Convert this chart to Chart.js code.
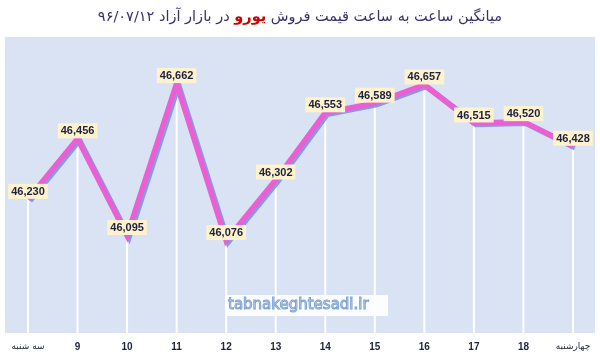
<!DOCTYPE html>
<html>
<head>
<meta charset="utf-8">
<script src="https://cdn.jsdelivr.net/npm/chart.js@4.4.1/dist/chart.umd.min.js"></script>
<style>
  html, body { margin: 0; padding: 0; background: #ffffff; }
  #wrap { position: relative; width: 600px; height: 356px; }
  #title {
    position: absolute; left: 0; top: 3px; width: 600px; height: 26px;
    text-align: center; direction: rtl;
    font-family: 'DejaVu Sans', sans-serif; font-size: 14.5px; line-height: 26px;
    color: #3b2f6b;
  }
  #title .red { color: #d00000; font-weight: bold; }
  canvas { position: absolute; left: 0; top: 0; }
</style>
</head>
<body>
<div id="wrap">
  <canvas id="c" width="600" height="356"></canvas>
  <div id="title">میانگین ساعت به ساعت قیمت فروش <span class="red">یورو</span> در بازار آزاد ۹۶/۰۷/۱۲</div>
</div>
<script>
const categories = ['سه شنبه', '9', '10', '11', '12', '13', '14', '15', '16', '17', '18', 'چهارشنبه'];
const prices = [46230, 46456, 46095, 46662, 46076, 46302, 46553, 46589, 46657, 46515, 46520, 46428];
const yMin = 45731;
const yMax = 46836;

const bgPlugin = {
  id: 'bgPlugin',
  beforeDraw(chart) {
    const { ctx, chartArea } = chart;
    ctx.save();
    ctx.fillStyle = '#dae3f3';
    ctx.fillRect(5, chartArea.top, 590, chartArea.bottom - chartArea.top);
    ctx.restore();
  }
};

const dropLines = {
  id: 'dropLines',
  beforeDatasetsDraw(chart) {
    const { ctx, chartArea } = chart;
    const meta = chart.getDatasetMeta(0);
    ctx.save();
    ctx.strokeStyle = '#ffffff';
    ctx.lineWidth = 2;
    meta.data.forEach(p => {
      ctx.beginPath();
      ctx.moveTo(p.x, p.y);
      ctx.lineTo(p.x, chartArea.bottom);
      ctx.stroke();
    });
    ctx.restore();
  }
};

const lineShadow = {
  id: 'lineShadow',
  beforeDatasetDraw(chart) {
    const ctx = chart.ctx;
    ctx.save();
    ctx.shadowColor = 'rgba(110,145,225,0.85)';
    ctx.shadowOffsetX = 2;
    ctx.shadowOffsetY = 1.5;
    ctx.shadowBlur = 0;
  },
  afterDatasetDraw(chart) {
    chart.ctx.restore();
  }
};

const valueLabels = {
  id: 'valueLabels',
  afterDatasetsDraw(chart) {
    const { ctx } = chart;
    const meta = chart.getDatasetMeta(0);
    const data = chart.data.datasets[0].data;
    ctx.save();
    ctx.font = 'bold 11px "Liberation Sans", Arial, sans-serif';
    ctx.textAlign = 'center';
    ctx.textBaseline = 'middle';
    meta.data.forEach((p, i) => {
      const txt = data[i].toLocaleString('en-US');
      const w = ctx.measureText(txt).width + 6;
      const h = 15;
      const cy = p.y - 8;
      ctx.fillStyle = '#fff2cc';
      ctx.fillRect(p.x - w / 2, cy - h / 2, w, h);
      ctx.fillStyle = '#1b2240';
      ctx.fillText(txt, p.x, cy + 0.5);
    });
    // watermark
    ctx.fillStyle = 'rgba(255,255,255,0.9)';
    ctx.fillRect(225, 295, 163, 21);
    ctx.font = '15px "DejaVu Sans", sans-serif';
    ctx.textAlign = 'left';
    ctx.lineWidth = 1;
    ctx.strokeStyle = '#7fa3cf';
    ctx.fillStyle = '#e2ecf8';
    ctx.fillText('tabnakeghtesadi.ir', 228, 305);
    ctx.strokeText('tabnakeghtesadi.ir', 228, 305);
    ctx.restore();
  }
};

new Chart(document.getElementById('c'), {
  type: 'line',
  data: {
    labels: categories,
    datasets: [{
      data: prices,
      borderColor: '#ea5fd3',
      borderWidth: 5.5,
      pointRadius: 0,
      tension: 0,
      fill: false,
      borderJoinStyle: 'miter',
      borderCapStyle: 'butt'
    }]
  },
  options: {
    responsive: false,
    animation: false,
    layout: { padding: { left: 28, right: 27, top: 37, bottom: 4 } },
    plugins: { legend: { display: false }, tooltip: { enabled: false }, title: { display: false } },
    scales: {
      y: { display: false, min: yMin, max: yMax },
      x: {
        offset: false,
        grid: { display: false },
        border: { display: false },
        afterFit(scale) { scale.height = 19; },
        ticks: {
          autoSkip: false, maxRotation: 0, minRotation: 0, padding: 0,
          color: '#1b2240',
          font: (ctx) => {
            const l = categories[ctx.index] || '';
            return /^\d+$/.test(l)
              ? { family: '"Liberation Sans", Arial, sans-serif', size: 10, weight: 'bold' }
              : { family: '"DejaVu Sans", sans-serif', size: 9, weight: 'normal' };
          }
        }
      }
    }
  },
  plugins: [bgPlugin, dropLines, lineShadow, valueLabels]
});
</script>
</body>
</html>
